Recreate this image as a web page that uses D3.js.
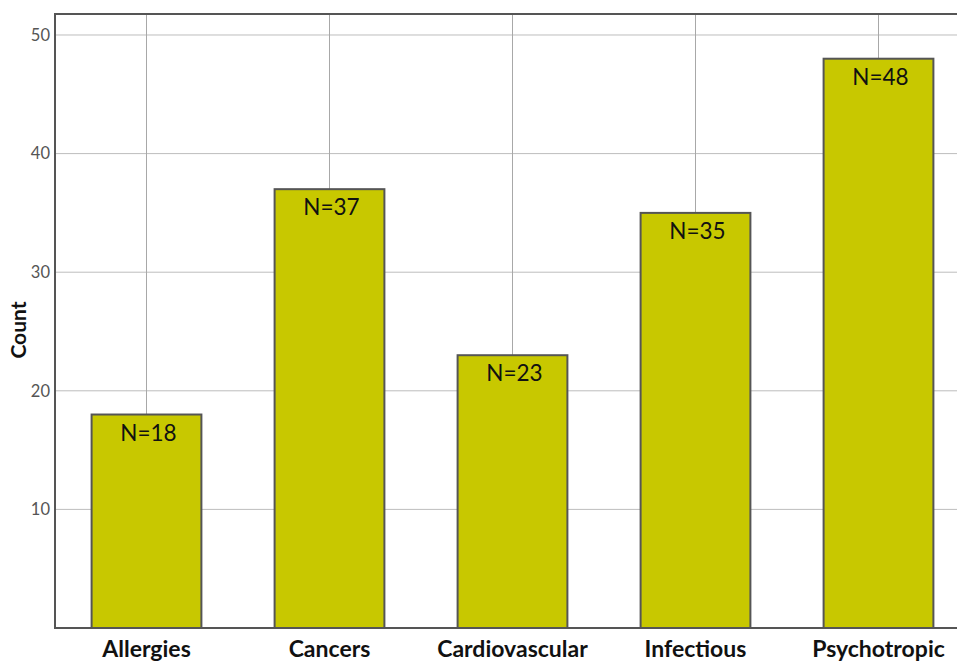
<!DOCTYPE html>
<html>
<head>
<meta charset="utf-8">
<script src="https://cdn.jsdelivr.net/npm/d3@7"></script>
<style>
  body { margin: 0; background: #fff; }
  svg { display: block; }
</style>
</head>
<body>
<svg id="chart" width="957" height="664"></svg>
<script>
const categories = ['Allergies', 'Cancers', 'Cardiovascular', 'Infectious', 'Psychotropic'];
const counts = [18, 37, 23, 35, 48];
const yTicks = [10, 20, 30, 40, 50];

const barColor = '#c8c800';
const frameColor = '#555555';
const gridColor = '#bdbdbd';

const width = 957;
const height = 664;
const margin = { left: 55, top: 14, bottom: 36 };
const plotRight = 970; // plot runs past the window edge

const svg = d3.select('#chart');

const x = d3.scaleBand()
  .domain(categories)
  .range([margin.left, plotRight])
  .paddingInner(0.4)
  .paddingOuter(0.2);

const y = d3.scaleLinear()
  .domain([0, 51.77])
  .range([height - margin.bottom, margin.top]);

// horizontal grid
svg.append('g')
  .selectAll('line')
  .data(yTicks)
  .enter()
  .append('line')
  .attr('x1', margin.left)
  .attr('x2', plotRight)
  .attr('y1', d => y(d))
  .attr('y2', d => y(d))
  .attr('stroke', gridColor)
  .attr('stroke-width', 1);

// vertical grid at category centres
svg.append('g')
  .selectAll('line')
  .data(categories)
  .enter()
  .append('line')
  .attr('x1', d => x(d) + x.bandwidth() / 2)
  .attr('x2', d => x(d) + x.bandwidth() / 2)
  .attr('y1', margin.top)
  .attr('y2', height - margin.bottom)
  .attr('stroke', '#a8a8a8')
  .attr('stroke-width', 1);

// bars
const bar = svg.append('g')
  .selectAll('g')
  .data(categories.map((c, i) => ({ name: c, value: counts[i] })))
  .enter()
  .append('g');

bar.append('rect')
  .attr('x', d => x(d.name))
  .attr('y', d => y(d.value))
  .attr('width', x.bandwidth())
  .attr('height', d => y(0) - y(d.value))
  .attr('fill', barColor)
  .attr('stroke', frameColor)
  .attr('stroke-width', 2);

bar.append('text')
  .attr('x', d => x(d.name) + x.bandwidth() / 2 + 2)
  .attr('y', d => y(d.value) + 26)
  .attr('text-anchor', 'middle')
  .attr('font-family', 'Lato, "Open Sans", sans-serif')
  .attr('font-size', 22.5)
  .attr('fill', '#111')
  .text(d => 'N=' + d.value);

// frame
svg.append('path')
  .attr('d', `M${plotRight},${margin.top} H${margin.left} V${height - margin.bottom} H${plotRight}`)
  .attr('fill', 'none')
  .attr('stroke', frameColor)
  .attr('stroke-width', 2);

// y tick labels
svg.append('g')
  .selectAll('text')
  .data(yTicks)
  .enter()
  .append('text')
  .attr('x', margin.left - 5)
  .attr('y', d => y(d))
  .attr('dy', '0.35em')
  .attr('text-anchor', 'end')
  .attr('font-family', 'Lato, "Open Sans", sans-serif')
  .attr('font-size', 16.5)
  .attr('fill', '#555')
  .text(d => d);

// category labels (kept just inside the bottom edge)
svg.append('g')
  .selectAll('text')
  .data(categories)
  .enter()
  .append('text')
  .attr('x', d => x(d) + x.bandwidth() / 2)
  .attr('y', 657)
  .attr('text-anchor', 'middle')
  .attr('font-family', 'Lato, "Open Sans", sans-serif')
  .attr('font-weight', 'bold')
  .attr('font-size', 23)
  .attr('fill', '#111')
  .text(d => d);

// y axis title
svg.append('text')
  .attr('transform', `translate(26, 330) rotate(-90)`)
  .attr('text-anchor', 'middle')
  .attr('font-family', 'Lato, "Open Sans", sans-serif')
  .attr('font-weight', 'bold')
  .attr('font-size', 21)
  .attr('fill', '#111')
  .text('Count');
</script>
</body>
</html>
